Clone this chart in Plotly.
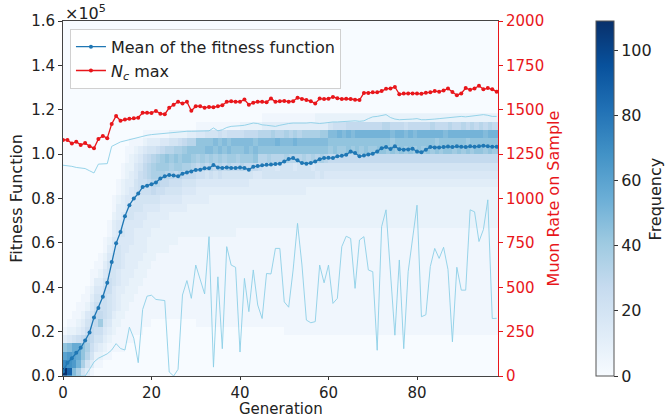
import plotly.graph_objects as go

# ---------------- data ----------------
generations = list(range(99))

# mean / max / min fitness per generation, in units of 1e5
mean_fitness = [
    0.02, 0.06, 0.08, 0.105, 0.127, 0.16, 0.196, 0.264, 0.307, 0.357,
    0.42, 0.514, 0.598, 0.649, 0.72, 0.77, 0.80, 0.822, 0.852, 0.858,
    0.864, 0.872, 0.89, 0.90, 0.906, 0.904, 0.90, 0.912, 0.917, 0.922,
    0.929, 0.93, 0.936, 0.936, 0.951, 0.94, 0.938, 0.94, 0.938, 0.937,
    0.94, 0.937, 0.93, 0.943, 0.946, 0.95, 0.952, 0.953, 0.955, 0.957,
    0.967, 0.978, 0.982, 0.972, 0.96, 0.957, 0.96, 0.967, 0.977, 0.982,
    0.984, 0.983, 0.99, 0.993, 0.997, 1.012, 1.005, 0.99, 0.994, 0.998,
    1.002, 1.012, 1.027, 1.032, 1.023, 1.035, 1.022, 1.02, 1.021, 1.024,
    1.012, 1.008, 1.02, 1.032, 1.03, 1.03, 1.032, 1.034, 1.032, 1.035,
    1.033, 1.032, 1.035, 1.033, 1.035, 1.038, 1.035, 1.033, 1.033,
]
max_fitness = [
    0.95, 0.948, 0.945, 0.94, 0.937, 0.935, 0.925, 0.915, 0.955, 0.955,
    0.957, 1.035, 1.045, 1.055, 1.06, 1.065, 1.072, 1.075, 1.08, 1.085,
    1.088, 1.09, 1.092, 1.095, 1.097, 1.10, 1.10, 1.102, 1.103, 1.103,
    1.104, 1.105, 1.103, 1.105, 1.118, 1.105, 1.11, 1.12, 1.125, 1.125,
    1.128, 1.13, 1.135, 1.14, 1.138, 1.132, 1.13, 1.128, 1.125, 1.13,
    1.135, 1.138, 1.14, 1.14, 1.138, 1.14, 1.142, 1.14, 1.138, 1.14,
    1.143, 1.145, 1.145, 1.147, 1.147, 1.148, 1.15, 1.148, 1.15, 1.16,
    1.168, 1.17, 1.175, 1.178, 1.165, 1.158, 1.155, 1.155, 1.156, 1.158,
    1.16, 1.155, 1.155, 1.155, 1.158, 1.16, 1.162, 1.165, 1.168, 1.17,
    1.17, 1.168, 1.17, 1.172, 1.175, 1.178, 1.175, 1.17, 1.17,
]
min_fitness = [
    0.0, 0.0, 0.0, 0.0, 0.0, 0.0, 0.03, 0.063, 0.08, 0.09,
    0.10, 0.117, 0.146, 0.124, 0.117, 0.22, 0.17, 0.06, 0.30, 0.36,
    0.364, 0.345, 0.342, 0.34, 0.018, 0.0, 0.03, 0.365, 0.43, 0.35,
    0.50, 0.44, 0.37, 0.628, 0.04, 0.447, 0.123, 0.583, 0.50, 0.49,
    0.108, 0.44, 0.29, 0.478, 0.32, 0.259, 0.462, 0.46, 0.575, 0.575,
    0.334, 0.31, 0.478, 0.688, 0.50, 0.252, 0.24, 0.245, 0.50, 0.42,
    0.50, 0.327, 0.35, 0.583, 0.63, 0.62, 0.395, 0.613, 0.628, 0.478,
    0.47, 0.116, 0.673, 0.749, 0.47, 0.184, 0.523, 0.123, 0.47, 0.62,
    0.77, 0.267, 0.276, 0.493, 0.575, 0.53, 0.58, 0.48, 0.154, 0.49,
    0.387, 0.387, 0.749, 0.74, 0.606, 0.66, 0.794, 0.259, 0.26,
]
# N_c max (right axis, muon rate on sample)
nc_max = [
    1330, 1330, 1310, 1320, 1302, 1312, 1295, 1283, 1335, 1352,
    1340, 1420, 1465, 1438, 1445, 1450, 1452, 1455, 1483, 1483,
    1482, 1493, 1478, 1475, 1511, 1528, 1545, 1535, 1545, 1494,
    1520, 1520, 1511, 1516, 1514, 1520, 1525, 1545, 1548, 1545,
    1545, 1558, 1528, 1540, 1545, 1545, 1542, 1564, 1545, 1548,
    1550, 1545, 1548, 1568, 1560, 1555, 1548, 1535, 1563, 1560,
    1562, 1572, 1565, 1560, 1562, 1560, 1556, 1555, 1595, 1595,
    1598, 1598, 1605, 1618, 1620, 1628, 1588, 1592, 1592, 1592,
    1592, 1590, 1596, 1598, 1605, 1602, 1608, 1620, 1600, 1582,
    1592, 1622, 1612, 1620, 1635, 1615, 1622, 1615, 1602,
]

# histogram of fitness per generation: one string per generation,
# one base-36 digit per fitness bin (bottom bin first), count = digit * 4
bin_width = 0.037
count_step = 4
heat_columns = [
    "rifb3100", "mhgc4210", "cgfe5211", "9dee6321 1", "59bb7432 11",
    "35898654 211", "13567765 43211", "01245677 654311", "012356a7 65432110",
    "00123456 66654321 1",
    "00112345 55665543 211", "00011223 44455554 433211", "00011122 33344555 44433211",
    "00011112 22333444 45443322 11", "00001111 22233334 44454433 2211",
    "00001111 12223333 44455443 32211", "00000111 11222333 33445555 44321",
    "00000111 11122233 33445566 65431", "00000011 11112223 33344566 776421",
    "00000011 11111222 23334567 887531",
    "00000001 11111122 22334578 998531", "00000001 11111112 22334568 9a9631",
    "00000001 11111112 22233467 9aa741", "00000001 11111112 22233457 8ab841",
    "00000001 11111111 22223456 89a852", "00000001 11111111 22223456 7ab952",
    "00000001 11111111 12223456 8aa962", "00000001 11111111 12223345 79ba72",
    "00000001 11111111 12222345 79bb83", "00000001 11111111 12222345 78ab83",
    "00000011 11111111 12222334 679bb41", "00000011 11111111 12222334 68abb41",
    "00000011 11111111 12222334 579cb51", "00000011 11111111 12222234 68acb51",
    "00000011 11111111 12222234 579bc51", "00000011 11111111 12222234 68acb61",
    "00000011 11111111 12222234 579bc51", "00000011 11111111 12222234 58acb61",
    "00000011 11111111 12222234 57abc61", "00000011 11111111 11222234 579bc61",
    "00000011 11111111 11222234 58abc62", "00000011 11111111 11222234 57acc72",
    "00000011 11111111 11222233 57abc72", "00000011 11111111 11222233 47bcb72",
    "00000011 11111111 11222233 468bc82", "00000011 11111111 11222233 558bc831",
    "00000011 11111111 11222233 559bc831", "00000011 11111111 11222233 558bc931",
    "00000011 11111111 11222233 548bd831", "00000011 11111111 11222233 558bc831",
    "00000111 11111111 11222233 559bc931", "00000111 11111111 11222233 558bc831",
    "00000111 11111111 11222233 548bd931", "00000111 11111111 11222233 558bc831",
    "00000111 11111111 11222233 559bc931", "00000111 11111111 11222223 558bc931",
    "00000111 11111111 11222223 549bc931", "00000111 11111111 11222223 458bc932",
    "00000111 11111111 11222223 559bca32", "00000111 11111111 11222223 458bca32",
    "00000111 11111111 11222223 457abc52", "00000111 11111111 11222223 457bbc62",
    "00000111 11111111 11222223 457abd62", "00000111 11111111 11222223 457abc62",
    "00000111 11111111 11222223 457bbd72", "00000111 11111111 11222223 457abc72",
    "00000111 11111111 11222223 457bbd72", "00000111 11111111 11222223 457abd72",
    "00000111 11111111 11222223 457bbd72", "00000111 11111111 11222223 457abd72",
    "00000111 11111111 11222223 457abd72", "00000111 11111111 11222223 457bbd72",
    "00000111 11111111 11222223 457bbd82", "00000111 11111111 11222223 457abd82",
    "00000111 11111111 11222223 457bac72", "00000111 11111111 11222223 457abd72",
    "00000111 11111111 11222223 457bbd72", "00000111 11111111 11222223 457abc62",
    "00000111 11111111 11222223 457bbd72", "00000111 11111111 11222223 457abc72",
    "00000111 11111111 11222223 457bbd72", "00000111 11111111 11222223 457abd72",
    "00000111 11111111 11222223 457bbd72", "00000111 11111111 11222223 457abd82",
    "00000111 11111111 11222223 457bad72", "00000111 11111111 11222223 457abd72",
    "00000111 11111111 11222223 457bbc72", "00000111 11111111 11222223 457bbd82",
    "00000111 11111111 11222223 457abd72", "00000111 11111111 11222223 457bbd72",
    "00000111 11111111 11222223 457abd82", "00000111 11111111 11222223 457bad72",
    "00000111 11111111 11222223 457abd82", "00000111 11111111 11222223 457bbd72",
    "00000111 11111111 11222223 457bbd82", "00000111 11111111 11222223 457abc72",
    "00000111 11111111 11222223 457bbd82", "00000111 11111111 11222223 457abd72",
    "00000111 11111111 11222223 457bbd72",
]

x_ticks = [0, 20, 40, 60, 80]
y_ticks = [0.0, 0.2, 0.4, 0.6, 0.8, 1.0, 1.2, 1.4, 1.6]
y2_ticks = [0, 250, 500, 750, 1000, 1250, 1500, 1750, 2000]
cbar_ticks = [0, 20, 40, 60, 80, 100]

# ---------------- build heatmap matrix ----------------
n_bins = 32
n_gen = len(heat_columns)
z = [[0] * n_gen for _ in range(n_bins)]
for g, col in enumerate(heat_columns):
    s = col.replace(" ", "").ljust(n_bins, "0")[:n_bins]
    for b, ch in enumerate(s):
        z[b][g] = int(ch, 36) * count_step
x_edges = list(range(n_gen + 1))
y_edges = [round(k * bin_width, 4) for k in range(n_bins + 1)]

blues = [
    [0.0, "rgb(247,251,255)"], [0.125, "rgb(222,235,247)"],
    [0.25, "rgb(198,219,239)"], [0.375, "rgb(158,202,225)"],
    [0.5, "rgb(107,174,214)"], [0.625, "rgb(66,146,198)"],
    [0.75, "rgb(33,113,181)"], [0.875, "rgb(8,81,156)"],
    [1.0, "rgb(8,48,107)"],
]

FONT = "DejaVu Sans"
RED = "#e8161b"
TICK = 15
TITLE = 16
fig = go.Figure()

fig.add_trace(go.Heatmap(
    x=x_edges, y=y_edges, z=z, colorscale=blues, zmin=0, zmax=109,
    hoverinfo="skip",
    colorbar=dict(
        x=1.2253, xanchor="left", xref="paper", y=0.5, yanchor="middle",
        len=1.0, lenmode="fraction", thickness=18, ypad=0, xpad=0,
        outlinewidth=1, outlinecolor="#555555",
        tickvals=cbar_ticks, ticks="outside", ticklen=4, tickcolor="#333333",
        tickfont=dict(family=FONT, size=16, color="#222222"),
    ),
))

fig.add_trace(go.Scatter(
    x=generations, y=max_fitness, mode="lines",
    line=dict(color="#8ccfe6", width=0.9), showlegend=False, hoverinfo="skip"))
fig.add_trace(go.Scatter(
    x=generations, y=min_fitness, mode="lines",
    line=dict(color="#8ccfe6", width=0.9), showlegend=False, hoverinfo="skip"))
fig.add_trace(go.Scatter(
    x=generations, y=mean_fitness, mode="lines+markers",
    name="Mean of the fitness function",
    line=dict(color="#1f77b4", width=1.3), marker=dict(size=4, color="#1f77b4")))
fig.add_trace(go.Scatter(
    x=generations, y=nc_max, mode="lines+markers", yaxis="y2",
    name="<i>N</i><sub><i>c</i></sub> max",
    line=dict(color=RED, width=1.3), marker=dict(size=4, color=RED)))

fig.update_layout(
    width=666, height=420,
    margin=dict(l=63, r=168, t=21, b=44),
    paper_bgcolor="white", plot_bgcolor="#f7fbff",
    font=dict(family=FONT, size=16, color="#222222"),
    xaxis=dict(
        range=[0, 98.3], tickvals=x_ticks, ticks="outside", ticklen=3,
        tickcolor="#333333", showline=True, linecolor="#444444", linewidth=1,
        mirror=True, showgrid=False, zeroline=False, automargin=False,
        tickfont=dict(size=TICK),
    ),
    yaxis=dict(
        range=[0, 1.6], tickvals=y_ticks, tickformat=".1f", ticks="outside",
        ticklen=4, tickcolor="#333333", showline=True, linecolor="#444444",
        linewidth=1, showgrid=False, zeroline=False, automargin=False,
        title=dict(text="Fitness Function", standoff=4, font=dict(size=TITLE)),
        tickfont=dict(size=TICK),
    ),
    yaxis2=dict(
        overlaying="y", side="right", range=[0, 2000], tickvals=y2_ticks,
        ticks="outside", ticklen=4, tickcolor=RED, showline=True,
        linecolor=RED, linewidth=1, showgrid=False, zeroline=False,
        automargin=False,
        tickfont=dict(size=TICK, color=RED),
        title=dict(text="Muon Rate on Sample", standoff=4,
                   font=dict(size=TITLE, color=RED)),
    ),
    legend=dict(
        x=0.016, y=0.978, xanchor="left", yanchor="top",
        bgcolor="rgba(255,255,255,0.85)", bordercolor="#d0d0d0",
        borderwidth=1, font=dict(size=16, color="#222222"),
        tracegroupgap=0,
    ),
    annotations=[
        dict(text="Generation", xref="paper", yref="paper", x=0.5, y=0,
             xanchor="center", yanchor="top", yshift=-23, borderpad=0,
             showarrow=False, font=dict(size=15, color="#222222")),
        dict(text="×10<sup>5</sup>", xref="paper", yref="paper", x=0.0,
             y=1.0, xanchor="left", yanchor="bottom", showarrow=False,
             font=dict(size=16, color="#222222"), yshift=-4),
        dict(text="Frequency", xref="paper", yref="paper", x=1.363, y=0.5,
             xanchor="center", yanchor="middle", textangle=-90,
             showarrow=False, font=dict(size=16, color="#222222")),
    ],
)

fig.write_html("out.html")
